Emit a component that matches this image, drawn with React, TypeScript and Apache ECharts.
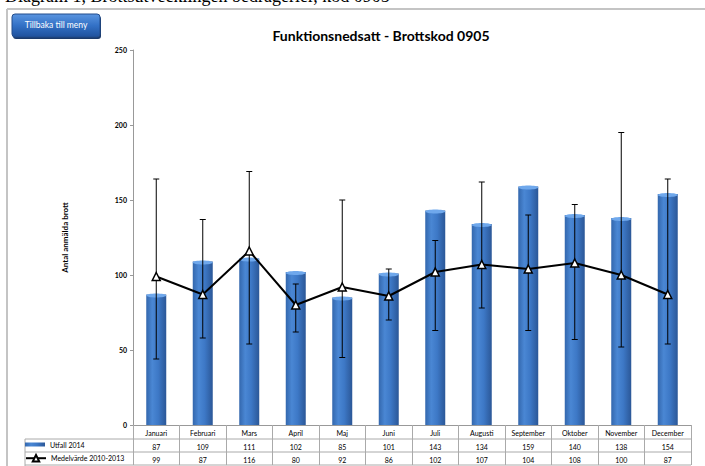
import React, { useEffect, useRef } from "react";
import * as echarts from "echarts";

const months = ["Januari", "Februari", "Mars", "April", "Maj", "Juni", "Juli", "Augusti", "September", "Oktober", "November", "December"];
const utfall2014 = [87, 109, 111, 102, 85, 101, 143, 134, 159, 140, 138, 154];
const medel20102013 = [99, 87, 116, 80, 92, 86, 102, 107, 104, 108, 100, 87];
const errLow = [44, 58, 54, 62, 45, 70, 63, 78, 63, 57, 52, 54];
const errHigh = [164, 137, 169, 94, 150, 104, 123, 162, 140, 147, 195, 164];
const yTicks = [0, 50, 100, 150, 200, 250];

const GRID_LEFT = 133;
const GRID_RIGHT = 691;
const GRID_TOP = 50;
const GRID_BOTTOM = 425;
const FONT = "Lato, 'Open Sans', sans-serif";

export default function App() {
  const ref = useRef<HTMLDivElement>(null);
  useEffect(() => {
    if (!ref.current) return;
    const chart = echarts.init(ref.current, null, { renderer: "svg" });
    const barGrad = new echarts.graphic.LinearGradient(0, 0, 1, 0, [
      { offset: 0, color: "#3367ad" },
      { offset: 0.3, color: "#4a87d4" },
      { offset: 0.6, color: "#3d78c6" },
      { offset: 1, color: "#2b5797" },
    ]);
    const lineY1 = 439;
    const lineY2 = 452;
    const lineY3 = 465;
    const legendText = { fontSize: 7, color: "#000", fontFamily: FONT };
    chart.setOption({
      animation: false,
      backgroundColor: "#ffffff",
      textStyle: { fontFamily: FONT },
      grid: {
        left: GRID_LEFT,
        right: 705 - GRID_RIGHT,
        top: GRID_TOP,
        bottom: 466 - GRID_BOTTOM,
      },
      legend: [
        {
          left: 25,
          top: 441,
          padding: 0,
          itemWidth: 20,
          itemHeight: 4,
          textStyle: legendText,
          data: [{ name: "Utfall 2014", icon: "rect" }],
        },
        {
          left: 25,
          top: 454,
          padding: 0,
          itemWidth: 20,
          itemHeight: 8,
          textStyle: legendText,
          data: [{ name: "Medelvärde 2010-2013" }],
        },
      ],
      xAxis: [
        {
          type: "category",
          data: months,
          position: "bottom",
          axisLine: { lineStyle: { color: "#999", width: 1 } },
          axisTick: { show: true, length: 40, lineStyle: { color: "#aaa" } },
          axisLabel: { fontSize: 7, color: "#000", margin: 4, interval: 0 },
        },
        {
          type: "category",
          data: utfall2014.map(String),
          position: "bottom",
          offset: 13,
          axisLine: { show: false },
          axisTick: { show: false },
          axisLabel: { fontSize: 7, color: "#000", margin: 5, interval: 0 },
        },
        {
          type: "category",
          data: medel20102013.map(String),
          position: "bottom",
          offset: 26,
          axisLine: { show: false },
          axisTick: { show: false },
          axisLabel: { fontSize: 7, color: "#000", margin: 5, interval: 0 },
        },
      ],
      yAxis: {
        type: "value",
        min: yTicks[0],
        max: yTicks[yTicks.length - 1],
        interval: 50,
        name: "Antal anmälda brott",
        nameLocation: "middle",
        nameRotate: 90,
        nameGap: 64,
        nameTextStyle: { fontSize: 8, fontWeight: "bold", color: "#000" },
        axisLine: { show: true, lineStyle: { color: "#999" } },
        axisTick: { show: true, length: 3, lineStyle: { color: "#999" } },
        axisLabel: { fontSize: 7, color: "#000", margin: 6, fontWeight: "bold" },
        splitLine: { show: false },
      },
      series: [
        {
          name: "Utfall 2014",
          type: "bar",
          data: utfall2014,
          barWidth: "43%",
          itemStyle: { color: barGrad },
          z: 2,
        },
        {
          name: "caps",
          type: "custom",
          z: 3,
          silent: true,
          data: utfall2014.map((v, i) => [i, v]),
          renderItem: (params: any, api: any) => {
            const p = api.coord([api.value(0), api.value(1)]);
            const w = api.size([1, 0])[0] * 0.43;
            return {
              type: "ellipse",
              shape: { cx: p[0], cy: p[1] + 1, rx: w / 2, ry: 2 },
              style: { fill: "#6fa8ec" },
            };
          },
        },
        {
          name: "err",
          type: "custom",
          z: 4,
          silent: true,
          data: errLow.map((lo, i) => [i, lo, errHigh[i]]),
          renderItem: (params: any, api: any) => {
            const x = api.value(0);
            const lo = api.coord([x, api.value(1)]);
            const hi = api.coord([x, api.value(2)]);
            const s = { stroke: "#000", lineWidth: 1 };
            return {
              type: "group",
              children: [
                { type: "line", shape: { x1: lo[0], y1: lo[1], x2: hi[0], y2: hi[1] }, style: s },
                { type: "line", shape: { x1: hi[0] - 3, y1: hi[1], x2: hi[0] + 3, y2: hi[1] }, style: s },
                { type: "line", shape: { x1: lo[0] - 3, y1: lo[1], x2: lo[0] + 3, y2: lo[1] }, style: s },
              ],
            };
          },
        },
        {
          name: "Medelvärde 2010-2013",
          type: "line",
          data: medel20102013,
          symbol: "triangle",
          symbolSize: 8,
          lineStyle: { color: "#000", width: 2 },
          itemStyle: { color: "#fff", borderColor: "#000", borderWidth: 1.5 },
          z: 5,
        },
      ],
      graphic: [
        {
          type: "text",
          left: 5,
          top: -13,
          style: {
            text: "Diagram 1, Brottsutvecklingen bedrägerier, kod 0905",
            fontSize: 18,
            fontFamily: "'Liberation Serif', 'DejaVu Serif', serif",
            fill: "#000",
          },
        },
        { type: "line", shape: { x1: 7, y1: 9, x2: 705, y2: 9 }, style: { stroke: "#c4c4c4", lineWidth: 2 } },
        { type: "line", shape: { x1: 7, y1: 9, x2: 7, y2: 466 }, style: { stroke: "#c4c4c4", lineWidth: 2 } },
        {
          type: "rect",
          shape: { x: 13, y: 16, width: 88, height: 23, r: 3 },
          style: { fill: "#1b3a6b" },
        },
        {
          type: "rect",
          shape: { x: 12, y: 14, width: 88, height: 23, r: 3 },
          style: {
            fill: new echarts.graphic.LinearGradient(0, 0, 0, 1, [
              { offset: 0, color: "#5a95e0" },
              { offset: 0.5, color: "#3371c6" },
              { offset: 1, color: "#1f519c" },
            ]),
            stroke: "#234d8c",
            lineWidth: 1,
          },
        },
        {
          type: "text",
          x: 56,
          y: 25,
          style: {
            text: "Tillbaka till meny",
            fontSize: 8.5,
            fontFamily: FONT,
            fill: "#ffffff",
            align: "center",
            verticalAlign: "middle",
          },
        },
        {
          type: "text",
          x: 381,
          y: 35,
          style: {
            text: "Funktionsnedsatt - Brottskod 0905",
            fontSize: 14,
            fontWeight: "bold",
            fontFamily: FONT,
            fill: "#000",
            align: "center",
            verticalAlign: "middle",
          },
        },
        { type: "line", shape: { x1: 25, y1: lineY1, x2: GRID_RIGHT, y2: lineY1 }, style: { stroke: "#aaa", lineWidth: 1 } },
        { type: "line", shape: { x1: 25, y1: lineY2, x2: GRID_RIGHT, y2: lineY2 }, style: { stroke: "#aaa", lineWidth: 1 } },
        { type: "line", shape: { x1: 25, y1: lineY3, x2: GRID_RIGHT, y2: lineY3 }, style: { stroke: "#aaa", lineWidth: 1 } },
        { type: "line", shape: { x1: 25, y1: lineY1, x2: 25, y2: 466 }, style: { stroke: "#aaa", lineWidth: 1 } },
      ],
    });
    return () => chart.dispose();
  }, []);
  return (
    <div
      ref={ref}
      style={{ position: "absolute", left: 0, top: 0, width: 705, height: 466, background: "#fff" }}
    />
  );
}
